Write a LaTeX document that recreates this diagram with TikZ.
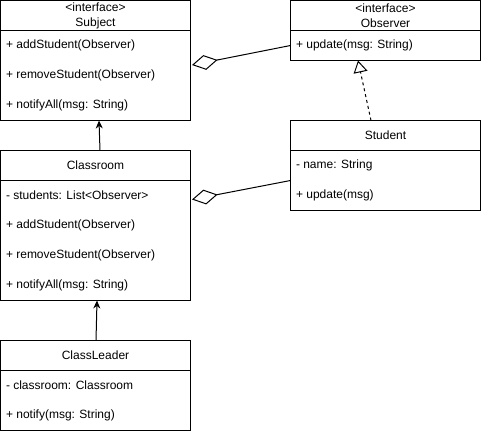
\documentclass[tikz,border=0pt]{standalone}
\usepackage{fontspec}
\setmainfont{Liberation Sans}
\usetikzlibrary{positioning,arrows.meta}

\tikzset{
	head/.style={draw, anchor=north west, minimum width=190, minimum height=30, inner sep=0, outer sep=0, align=center, font=\fontsize{12}{15}\selectfont},
	body/.style={draw, minimum width=190, inner sep=0, outer sep=0},
	item/.style={anchor=west, inner sep=0, font=\fontsize{12}{15}\selectfont},
	agg/.style={-{Diamond[open,length=26,width=15]}},
	real/.style={dash pattern=on 3pt off 3pt, -{Triangle[open,length=12,width=14]}},
}

\begin{document}
\begin{tikzpicture}[x=1pt, y=-1pt, line width=1pt, >={Stealth[length=8,width=7]}]
	\useasboundingbox (0,0) rectangle (481,431);

	% Subject
	\node[head] (subject) at (0.5,0.5) {<interface>\\Subject};
	\node[body, minimum height=90, below=0 of subject] (subjectbody) {};
	\foreach \t [count=\i] in {+ addStudent(Observer), + removeStudent(Observer), + notifyAll(msg: String)}
		\node[item] (subject-\i) at ([shift={(5,30*\i-15)}]subjectbody.north west) {\t};

	% Observer
	\node[head] (observer) at (290.5,0.5) {<interface>\\Observer};
	\node[body, minimum height=30, below=0 of observer] (observerbody) {};
	\node[item] (observer-1) at ([shift={(5,15)}]observerbody.north west) {+ update(msg: String)};

	% Student
	\node[head] (student) at (290.5,120.5) {Student};
	\node[body, minimum height=60, below=0 of student] (studentbody) {};
	\foreach \t [count=\i] in {- name: String, + update(msg)}
		\node[item] (student-\i) at ([shift={(5,30*\i-15)}]studentbody.north west) {\t};

	% Classroom
	\node[head] (classroom) at (0.5,150.5) {Classroom};
	\node[body, minimum height=120, below=0 of classroom] (classroombody) {};
	\foreach \t [count=\i] in {- students: List<Observer>, + addStudent(Observer), + removeStudent(Observer), + notifyAll(msg: String)}
		\node[item] (classroom-\i) at ([shift={(5,30*\i-15)}]classroombody.north west) {\t};

	% ClassLeader
	\node[head] (classleader) at (0.5,340.5) {ClassLeader};
	\node[body, minimum height=60, below=0 of classleader] (classleaderbody) {};
	\foreach \t [count=\i] in {- classroom: Classroom, + notify(msg: String)}
		\node[item] (classleader-\i) at ([shift={(5,30*\i-15)}]classleaderbody.north west) {\t};

	% inheritance
	\draw[->] ([xshift=4.5]classroom.north) -- ([xshift=3.5]subjectbody.south);
	\draw[->] ([xshift=0.5]classleader.north) -- ([xshift=1.5]classroombody.south);

	% realization
	\draw[real] ([xshift=-14.5]student.north) -- ([xshift=-27.5]observerbody.south);

	% aggregation
	\draw[agg] (observerbody.west) -- ([shift={(1.5,-10.5)}]subjectbody.east);
	\draw[agg] (studentbody.west) -- ([shift={(1.5,19)}]classroombody.north east);

\end{tikzpicture}
\end{document}
